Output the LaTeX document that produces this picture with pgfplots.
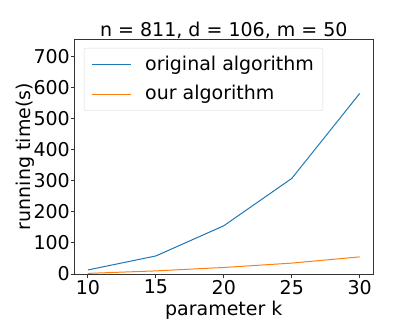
\documentclass[border=0pt]{standalone}
\usepackage{fontspec}
\setmainfont{DejaVu Sans}
\usepackage{pgfplots}
\pgfplotsset{compat=1.18}

\definecolor{mplblue}{HTML}{1F77B4}
\definecolor{mplorange}{HTML}{FF7F0E}

\begin{document}
\fontsize{19bp}{23bp}\selectfont
\begin{tikzpicture}
\path[use as bounding box] (-74.3bp,-49bp) rectangle (340.7bp,274bp);
\begin{axis}[
  at={(0,0)}, anchor=south west,
  scale only axis,
  width=299bp, height=235bp,
  xmin=9, xmax=31, ymin=0, ymax=755,
  xtick={10,15,20,25,30},
  ytick={0,100,...,700},
  /pgf/number format/assume math mode=true,
  tick label style={font=\fontsize{19bp}{23bp}\selectfont},
  label style={font=\fontsize{19bp}{23bp}\selectfont},
  title style={font=\fontsize{19bp}{23bp}\selectfont, yshift=-12bp},
  title={n = 811, d = 106, m = 50},
  xlabel={parameter k},
  ylabel={running time(s)},
  xlabel style={yshift=6bp},
  ylabel style={yshift=-14bp},
  tick align=outside, tick pos=left,
  major tick length=3.5bp,
  axis line style={black!80, line width=0.8bp},
  every tick/.style={black!80, line width=0.8bp},
  xticklabel style={yshift=4bp},
  yticklabel style={xshift=5.5bp},
  legend style={
    at={(axis description cs:0,1)}, anchor=north west,
    xshift=9.7bp, yshift=-9bp,
    draw=black!15, rounded corners=2bp, fill=white,
    font=\fontsize{19bp}{23bp}\selectfont,
    row sep=8bp, column sep=12bp,
    inner xsep=7bp, inner ysep=6bp,
    cells={anchor=west},
  },
  legend image code/.code={\draw[#1] (0bp,0bp) -- (39bp,0bp);},
]
\addplot[mplblue, line width=1bp] coordinates {
  (10,13) (15,58) (20,155) (25,307) (30,580)
};
\addlegendentry{original algorithm}
\addplot[mplorange, line width=1bp] coordinates {
  (10,2) (15,10) (20,21) (25,35) (30,55)
};
\addlegendentry{our algorithm}
\end{axis}
\end{tikzpicture}
\end{document}
